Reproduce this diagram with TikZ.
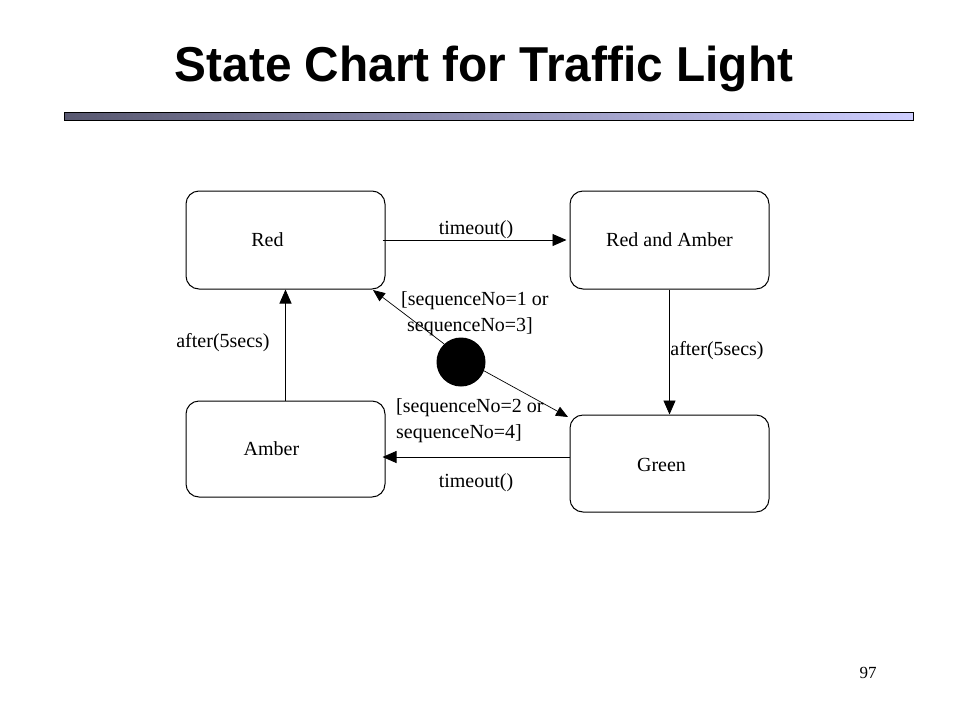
\documentclass[tikz,border=0pt]{standalone}
\usepackage{fontspec}
\setmainfont{Liberation Serif}
\newfontfamily\titlefont{Liberation Sans}
\usetikzlibrary{arrows.meta}
\definecolor{barleft}{RGB}{88,88,112}
\definecolor{barmid}{RGB}{150,150,200}
\definecolor{barright}{RGB}{206,206,255}
\begin{document}
\begin{tikzpicture}[x=1pt,y=-1pt,
  statebox/.style={draw,line width=1pt,rounded corners=13pt,minimum width=199pt,inner sep=0pt},
  lbl/.style={font=\fontsize{20}{23}\selectfont,inner sep=0pt},
  arr/.style={line width=0.9pt,-{Triangle[length=14pt,width=12pt]}},
  thin arr/.style={line width=0.7pt,-{Triangle[length=12pt,width=10pt]}}]
  \useasboundingbox (0,0) rectangle (960,720);

  % heading and rule
  \node[font=\titlefont\bfseries\fontsize{49}{55}\selectfont,inner sep=0pt,anchor=base,xscale=0.975]
    (title) at (484,81) {State Chart for Traffic Light};
  \shade[left color=barleft,middle color=barmid,right color=barright,draw=black,line width=1pt]
    (64,112) rectangle (913,120);

  % states
  \node[statebox,minimum height=98pt,label={[lbl,xshift=-18pt]center:Red}] (red) at (285.5,240) {};
  \node[statebox,minimum height=98pt,label={[lbl]center:Red and Amber}] (ra) at (669.5,240) {};
  \node[statebox,minimum height=96pt,label={[lbl,xshift=-14pt]center:Amber}] (amber) at (285.5,449) {};
  \node[statebox,minimum height=97pt,label={[lbl,xshift=-8pt,yshift=-1pt]center:Green}] (green) at (669.5,463.5) {};

  % initial pseudostate
  \node[circle,fill=black,minimum size=49pt,inner sep=0pt] (init) at (461,362) {};
  \coordinate (redin) at (373,290);
  \coordinate (greenin) at (568,417);

  % transitions
  \draw[arr] ([xshift=-3pt]red.east) -- ([xshift=-3pt]ra.west);
  \draw[arr] (ra.south) -- (green.north);
  \draw[arr] (green.west |- 0,457) -- ([xshift=-3pt]amber.east |- 0,457);
  \draw[arr] (amber.north) -- (red.south);
  \draw[thin arr] (init.133) -- (redin);
  \draw[thin arr] (init.-21) -- (greenin);

  % transition labels
  \node[lbl] (t1) at (476,230) {timeout()};
  \node[lbl] (t2) at (476,483) {timeout()};
  \node[lbl] (a1) at (223,343) {after(5secs)};
  \node[lbl] (a2) at (717,351) {after(5secs)};
  \node[lbl,anchor=west] (g1a) at (401,301) {[sequenceNo=1 or};
  \node[lbl,anchor=west] (g1b) at (407,327) {sequenceNo=3]};
  \node[lbl,anchor=west] (g2a) at (396,408) {[sequenceNo=2 or};
  \node[lbl,anchor=west] (g2b) at (396,434) {sequenceNo=4]};

  % page number
  \node[font=\fontsize{17}{20}\selectfont,inner sep=0pt] (pg) at (868,673) {97};
\end{tikzpicture}
\end{document}
